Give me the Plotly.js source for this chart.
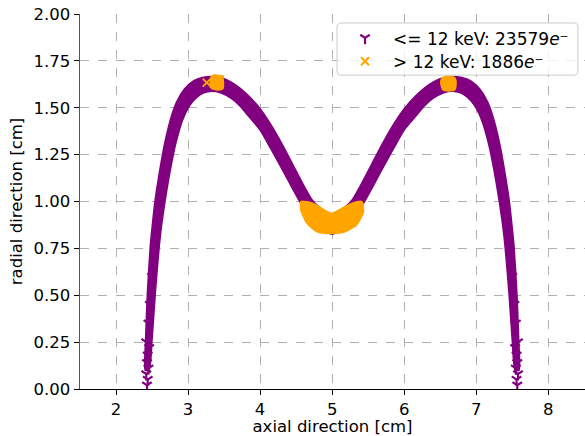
<!DOCTYPE html>
<html>
<head>
<meta charset="utf-8">
<script src="https://cdn.plot.ly/plotly-3.0.1.min.js"></script>
<style>html,body{margin:0;padding:0;background:#fff;}#chart{width:585px;height:436px;}</style>
</head>
<body>
<div id="chart"></div>
<script>
// Counts shown in the legend
const countLow = 23579;
const countHigh = 1886;

// Purple band (<= 12 keV): upper/outer edge, left to right
const purpleUpperX = [2.405,2.41,2.435,2.475,2.50,2.54,2.60,2.67,2.75,2.84,2.95,3.08,3.20,3.33,
  3.46,3.60,3.72,3.85,4.00,4.15,4.30,4.45,4.60,4.72,4.82,4.92,5.00,
  5.08,5.18,5.28,5.40,5.55,5.70,5.85,6.00,6.15,6.28,6.40,6.54,6.67,
  6.80,6.92,7.05,7.16,7.25,7.33,7.40,7.46,7.50,7.525,7.565,7.59,7.595];
const purpleUpperY = [0.10,0.26,0.51,0.76,0.86,1.00,1.15,1.30,1.43,1.53,1.60,1.645,1.662,1.667,
  1.660,1.637,1.605,1.56,1.495,1.41,1.31,1.20,1.09,1.01,0.97,0.94,0.93,
  0.94,0.97,1.01,1.09,1.20,1.31,1.41,1.495,1.56,1.605,1.637,1.660,1.667,
  1.662,1.645,1.60,1.53,1.43,1.30,1.15,1.00,0.86,0.76,0.51,0.26,0.10];
// Purple band: lower/inner edge, right to left
const purpleLowerX = [7.54,7.50,7.455,7.40,7.365,7.32,7.25,7.17,7.08,6.98,6.88,6.78,6.67,6.55,6.40,6.28,6.15,6.00,
  5.85,5.72,5.58,5.45,5.35,5.25,5.13,5.00,4.87,4.75,4.65,4.55,4.42,4.28,4.15,
  4.00,3.85,3.72,3.60,3.45,3.33,3.22,3.12,3.02,2.92,2.83,2.75,2.68,2.635,2.60,2.545,2.50,2.46];
const purpleLowerY = [0.10,0.26,0.51,0.76,0.88,1.00,1.16,1.31,1.43,1.51,1.555,1.58,1.588,1.58,1.55,1.51,1.45,1.381,
  1.28,1.19,1.09,1.00,0.94,0.89,0.85,0.825,0.85,0.89,0.94,1.00,1.09,1.19,1.28,
  1.381,1.45,1.51,1.55,1.58,1.588,1.58,1.555,1.51,1.43,1.31,1.16,1.00,0.88,0.76,0.51,0.26,0.10];
// Individual purple markers visible at the sparse ends
const purplePointsX = [2.43,2.44,2.42,2.45,2.43,2.44,2.46,2.42,2.45,2.47,2.50,7.57,7.56,7.58,7.55,7.57,7.56,7.54,7.58,7.55,7.53,7.50];
const purplePointsY = [0.02,0.05,0.08,0.11,0.14,0.18,0.22,0.25,0.35,0.45,0.60,0.02,0.05,0.08,0.11,0.14,0.18,0.22,0.25,0.35,0.45,0.60];

// Orange regions (> 12 keV)
const orangeDipX = [4.565,4.74,4.87,4.995,5.12,5.27,5.41,5.435,5.34,5.18,5.00,4.79,4.65,4.565];
const orangeDipY = [1.00,0.99,0.96,0.937,0.96,0.99,1.00,0.946,0.875,0.839,0.830,0.839,0.884,0.955];
const orangeLeftX = [3.32,3.36,3.42,3.47,3.49,3.48,3.42,3.36,3.31,3.31];
const orangeLeftY = [1.665,1.675,1.672,1.67,1.64,1.60,1.595,1.598,1.61,1.645];
const orangeRightX = [6.52,6.57,6.66,6.71,6.72,6.70,6.61,6.54,6.51];
const orangeRightY = [1.655,1.668,1.668,1.655,1.62,1.595,1.59,1.595,1.625];
const orangePointsX = [3.26,3.40,3.44,6.60,6.65,4.70,4.90,5.10,5.30,4.62,5.38];
const orangePointsY = [1.634,1.63,1.65,1.63,1.64,0.93,0.90,0.90,0.93,0.97,0.97];

// Tick values
const xTicks = [2,3,4,5,6,7,8];
const yTicks = [0,0.25,0.5,0.75,1.0,1.25,1.5,1.75,2.0];

const PURPLE = '#800080';
const ORANGE = '#FFA500';
const FONT = 'DejaVu Sans, sans-serif';
const FS = 16.5;

function poly(ax, ay, bx, by) {
  return {x: ax.concat(bx, [ax[0]]), y: ay.concat(by, [ay[0]])};
}
function closed(x, y) { return {x: x.concat([x[0]]), y: y.concat([y[0]])}; }

const band = poly(purpleUpperX, purpleUpperY, purpleLowerX, purpleLowerY);
const oDip = closed(orangeDipX, orangeDipY);
const oL = closed(orangeLeftX, orangeLeftY);
const oR = closed(orangeRightX, orangeRightY);

const fillTrace = (p, c) => ({
  type: 'scatter', mode: 'lines', x: p.x, y: p.y, fill: 'toself',
  fillcolor: c, line: {color: c, width: 1.5, shape: 'spline', smoothing: 0.6},
  showlegend: false, hoverinfo: 'skip'
});

const data = [
  fillTrace(band, PURPLE),
  {
    type: 'scatter', mode: 'markers', x: purplePointsX, y: purplePointsY,
    name: '&lt;= 12 keV: ' + countLow + '<i>e</i>⁻', legend: 'legend',
    marker: {symbol: 'y-down', size: 8, color: PURPLE, line: {color: PURPLE, width: 2.2}},
    hoverinfo: 'skip'
  },
  fillTrace(oDip, ORANGE),
  fillTrace(oL, ORANGE),
  fillTrace(oR, ORANGE),
  {
    type: 'scatter', mode: 'markers', x: orangePointsX, y: orangePointsY,
    name: '&gt; 12 keV: ' + countHigh + '<i>e</i>⁻', legend: 'legend2',
    marker: {symbol: 'x-thin', size: 8, color: ORANGE, line: {color: ORANGE, width: 2}},
    hoverinfo: 'skip'
  }
];

// legend frame (rounded rectangle in paper coordinates)
const fx0 = 0.509, fx1 = 0.986, fy0 = 0.837, fy1 = 0.976, rx = 0.008, ry = 0.011;
const framePath = `M ${fx0+rx},${fy0} L ${fx1-rx},${fy0} Q ${fx1},${fy0} ${fx1},${fy0+ry} L ${fx1},${fy1-ry} Q ${fx1},${fy1} ${fx1-rx},${fy1} L ${fx0+rx},${fy1} Q ${fx0},${fy1} ${fx0},${fy1-ry} L ${fx0},${fy0+ry} Q ${fx0},${fy0} ${fx0+rx},${fy0} Z`;

const legendBase = {
  x: 0.509, xanchor: 'left', yanchor: 'middle',
  bgcolor: 'rgba(0,0,0,0)', borderwidth: 0,
  font: {family: FONT, size: 17, color: '#000'},
  itemwidth: 46
};

const layout = {
  width: 585, height: 436,
  margin: {l: 80, r: 0, t: 14, b: 47},
  paper_bgcolor: '#ffffff', plot_bgcolor: '#ffffff',
  font: {family: FONT, size: FS, color: '#000'},
  showlegend: true,
  legend: Object.assign({}, legendBase, {y: 0.935}),
  legend2: Object.assign({}, legendBase, {y: 0.873}),
  shapes: [{
    type: 'path', xref: 'paper', yref: 'paper', path: framePath,
    fillcolor: 'rgba(255,255,255,0.8)', line: {color: '#cccccc', width: 1}, layer: 'above'
  }],
  xaxis: {
    range: [1.5, 8.51], tickvals: xTicks, ticks: 'outside', ticklen: 5, tickwidth: 1, tickcolor: '#000',
    showline: true, linecolor: '#000', linewidth: 1, mirror: false, zeroline: false,
    showgrid: true, gridcolor: '#b0b0b0', griddash: 'dash', gridwidth: 1,
    tickfont: {family: FONT, size: FS, color: '#000'},
    title: {text: 'axial direction [cm]', font: {family: FONT, size: FS, color: '#000'}, standoff: 8},
    automargin: false
  },
  yaxis: {
    range: [0, 2.0], tickvals: yTicks, tickformat: '.2f', ticks: 'outside', ticklen: 5, tickwidth: 1, tickcolor: '#000',
    showline: true, linecolor: '#555', linewidth: 1.5, mirror: false, zeroline: false,
    showgrid: true, gridcolor: '#b0b0b0', griddash: 'dash', gridwidth: 1,
    tickfont: {family: FONT, size: FS, color: '#000'},
    title: {text: 'radial direction [cm]', font: {family: FONT, size: FS, color: '#000'}, standoff: 6},
    automargin: false
  }
};

Plotly.newPlot('chart', data, layout, {displayModeBar: false, staticPlot: true});
</script>
</body>
</html>
